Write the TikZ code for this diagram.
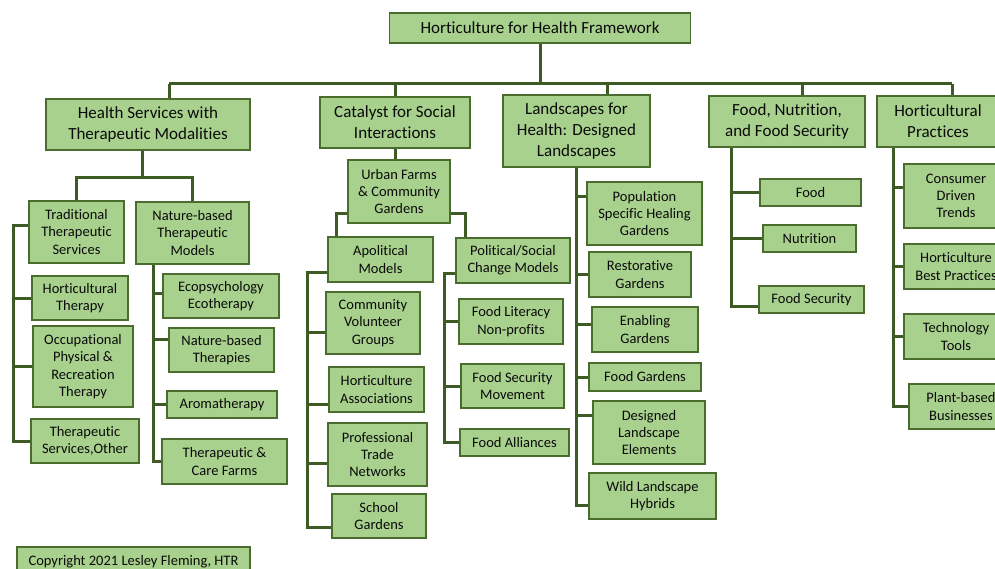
\documentclass[tikz,border=0pt]{standalone}
\usepackage{fontspec}
\setmainfont{Carlito}[Ligatures=NoCommon]
\definecolor{leaf}{HTML}{A9D18E}
\definecolor{boxedge}{HTML}{4A6C2F}
\definecolor{stem}{HTML}{3E5B26}
\definecolor{ink}{HTML}{0A0A0A}

\begin{document}
\begin{tikzpicture}[
    x=1pt, y=-1pt,
    box/.style={rectangle, draw=boxedge, line width=1.5pt, fill=leaf, text=ink, align=center, inner sep=0pt},
    head/.style={box, font=\fontsize{17}{20.7}\selectfont},
    item/.style={box, font=\fontsize{14.5}{17.3}\selectfont},
    link/.style={draw=stem, line width=3pt}
]
  \clip (0,0) rectangle (995,569);

  % nodes
  \node[head, minimum width=301pt, minimum height=30pt] (title) at (540,28) {Horticulture for Health Framework};

  \node[head, minimum width=204pt, minimum height=51pt] (health)   at (148,124.5) {Health Services with\\Therapeutic Modalities};
  \node[head, minimum width=150pt, minimum height=51pt] (catalyst) at (395,122.5) {Catalyst for Social\\Interactions};
  \node[head, minimum width=147pt, minimum height=72pt] (land)     at (576.5,131) {Landscapes for\\Health: Designed\\Landscapes};
  \node[head, minimum width=156pt, minimum height=51pt] (fns)      at (787,121.5) {Food, Nutrition,\\and Food Security};
  \node[head, minimum width=122pt, minimum height=51pt] (hort)     at (938,121.5) {Horticultural\\Practices};

  % health services
  \node[item, minimum width=95pt,  minimum height=62pt] (trad)     at (76.5,232)   {Traditional\\Therapeutic\\Services};
  \node[item, minimum width=113pt, minimum height=62pt] (nature)   at (192.5,233)  {Nature-based\\Therapeutic\\Models};
  \node[item, minimum width=96pt,  minimum height=44pt] (hortther) at (80,298)     {Horticultural\\Therapy};
  \node[item, minimum width=100pt, minimum height=81pt] (occ)      at (83,366.5)   {Occupational\\Physical \&\\Recreation\\Therapy};
  \node[item, minimum width=108pt, minimum height=44pt] (other)    at (85,441)     {Therapeutic\\Services,Other};
  \node[item, minimum width=116pt, minimum height=44pt] (eco)      at (221,296)    {Ecopsychology\\Ecotherapy};
  \node[item, minimum width=105pt, minimum height=44pt] (nbt)      at (221.5,350)  {Nature-based\\Therapies};
  \node[item, minimum width=110pt, minimum height=27pt] (aroma)    at (222,404.5)  {Aromatherapy};
  \node[item, minimum width=125pt, minimum height=45pt] (farms)    at (224.5,461.5) {Therapeutic \&\\Care Farms};

  % social interactions
  \node[item, minimum width=102pt, minimum height=63pt] (urban)  at (399,191.5) {Urban Farms\\\& Community\\Gardens};
  \node[item, minimum width=105pt, minimum height=45pt] (apol)   at (380.5,259.5) {Apolitical\\Models};
  \node[item, minimum width=114pt, minimum height=45pt] (polit)  at (513,260.5) {Political/Social\\Change Models};
  \node[item, minimum width=94pt,  minimum height=62pt] (comm)   at (373,323)   {Community\\Volunteer\\Groups};
  \node[item, minimum width=95pt,  minimum height=45pt] (assoc)  at (376.5,389.5) {Horticulture\\Associations};
  \node[item, minimum width=99pt,  minimum height=63pt] (prof)   at (377.5,454.5) {Professional\\Trade\\Networks};
  \node[item, minimum width=94pt,  minimum height=44pt] (school) at (379,516)   {School\\Gardens};
  \node[item, minimum width=104pt, minimum height=45pt] (lit)    at (511,321.5) {Food Literacy\\Non-profits};
  \node[item, minimum width=103pt, minimum height=44pt] (secmov) at (512.5,386) {Food Security\\Movement};
  \node[item, minimum width=109pt, minimum height=27pt] (alli)   at (514.5,442.5) {Food Alliances};

  % landscapes
  \node[item, minimum width=115pt, minimum height=63pt] (pop)   at (644.5,213.5) {Population\\Specific Healing\\Gardens};
  \node[item, minimum width=102pt, minimum height=45pt] (rest)  at (640,274.5)   {Restorative\\Gardens};
  \node[item, minimum width=106pt, minimum height=45pt] (enab)  at (645,329.5)   {Enabling\\Gardens};
  \node[item, minimum width=112pt, minimum height=28pt] (fgard) at (645,377)     {Food Gardens};
  \node[item, minimum width=112pt, minimum height=63pt] (desl)  at (649,432.5)   {Designed\\Landscape\\Elements};
  \node[item, minimum width=127pt, minimum height=46pt] (wild)  at (652.5,496)   {Wild Landscape\\Hybrids};

  % food
  \node[item, minimum width=101pt, minimum height=27pt] (food) at (810.5,192.5) {Food};
  \node[item, minimum width=93pt,  minimum height=27pt] (nutr) at (809.5,238.5) {Nutrition};
  \node[item, minimum width=105pt, minimum height=27pt] (fsec) at (811.5,299.5) {Food Security};

  % practices
  \node[item, minimum width=104pt, minimum height=64pt] (cons)  at (956,196)   {Consumer\\Driven\\Trends};
  \node[item, minimum width=104pt, minimum height=45pt] (best)  at (956,266.5) {Horticulture\\Best Practices};
  \node[item, minimum width=104pt, minimum height=45pt] (tech)  at (956,336.5) {Technology\\Tools};
  \node[item, minimum width=104pt, minimum height=45pt] (plant) at (961,406.5) {Plant-based\\Businesses};

  \node[item, minimum width=233pt, minimum height=30pt] (copy) at (133.5,562) {Copyright 2021 Lesley Fleming, HTR};

  % edges
  \coordinate (busL) at (169,84);
  \coordinate (busR) at (952,84);
  \coordinate (dropL) at (607,84);
  \coordinate (dropF) at (802,84);
  \draw[link] (title.south) -- (title.south |- busL);
  \draw[link] (busL) -- (busR);
  \draw[link] (busL) -- (busL |- health.north);
  \draw[link] (catalyst.north |- busL) -- (catalyst.north);
  \draw[link] (dropL) -- (dropL |- land.north);
  \draw[link] (dropF) -- (dropF |- fns.north);
  \draw[link] (busR) -- (busR |- hort.north);

  % health services
  \coordinate (hsplit) at (142,178);
  \coordinate (tv) at (13,0);
  \coordinate (nv) at (153,0);
  \draw[link] (hsplit |- health.south) -- (hsplit);
  \draw[link] (trad.north) |- (hsplit) -| (nature.north);
  \draw[link] ([yshift=6pt]trad.west) -| (tv |- other.west) -- (other.west);
  \draw[link] (tv |- hortther.west) -- (hortther.west);
  \draw[link] (tv |- occ.west) -- (occ.west);
  \draw[link] (nv |- nature.south) |- (farms.west);
  \draw[link] ([yshift=3pt]eco.west -| nv) -- ([yshift=3pt]eco.west);
  \draw[link] ([yshift=11pt]nbt.west -| nv) -- ([yshift=11pt]nbt.west);
  \draw[link] (aroma.west -| nv) -- (aroma.west);

  % social interactions
  \coordinate (av) at (307,0);
  \coordinate (pv) at (444,0);
  \draw[link] (catalyst.south) -- (catalyst.south |- urban.north);
  \draw[link] ([yshift=10pt]urban.south west) -| ([xshift=9pt]apol.north west);
  \draw[link] ([yshift=10pt]urban.south east) -| ([xshift=10pt]polit.north west);
  \draw[link] ([yshift=-13pt]apol.west) -- ([yshift=-13pt]apol.west -| av) -- ([yshift=-11pt]school.west -| av) -- ([yshift=-11pt]school.west);
  \draw[link] ([yshift=-9pt]comm.west -| av) -- ([yshift=-9pt]comm.west);
  \draw[link] ([yshift=-15pt]assoc.west -| av) -- ([yshift=-15pt]assoc.west);
  \draw[link] ([yshift=-9pt]prof.west -| av) -- ([yshift=-9pt]prof.west);
  \draw[link] ([yshift=-13pt]polit.west) -| (pv |- alli.west) -- (alli.west);
  \draw[link] (pv |- lit.west) -- (lit.west);
  \draw[link] (pv |- secmov.west) -- (secmov.west);

  % landscapes
  \draw[link] (land.south) -- ([yshift=-9pt]wild.west -| land.south) -- ([yshift=-9pt]wild.west);
  \draw[link] ([yshift=17pt]pop.west -| land.south) -- ([yshift=17pt]pop.west);
  \draw[link] (rest.west -| land.south) -- (rest.west);
  \draw[link] ([yshift=5pt]enab.west -| land.south) -- ([yshift=5pt]enab.west);
  \draw[link] (fgard.west -| land.south) -- (fgard.west);
  \draw[link] ([yshift=17pt]desl.west -| land.south) -- ([yshift=17pt]desl.west);

  % food
  \coordinate (fv) at (731,0);
  \draw[link] (fv |- fns.south) -- ([yshift=-7pt]fsec.west -| fv) -- ([yshift=-7pt]fsec.west);
  \draw[link] (food.west -| fv) -- (food.west);
  \draw[link] (nutr.west -| fv) -- (nutr.west);

  % practices
  \coordinate (hv) at (893,0);
  \draw[link] (hv |- hort.south) |- (plant.west);
  \draw[link] ([yshift=8pt]cons.west -| hv) -- ([yshift=8pt]cons.west);
  \draw[link] (best.west -| hv) -- (best.west);
  \draw[link] (tech.west -| hv) -- (tech.west);
\end{tikzpicture}
\end{document}
